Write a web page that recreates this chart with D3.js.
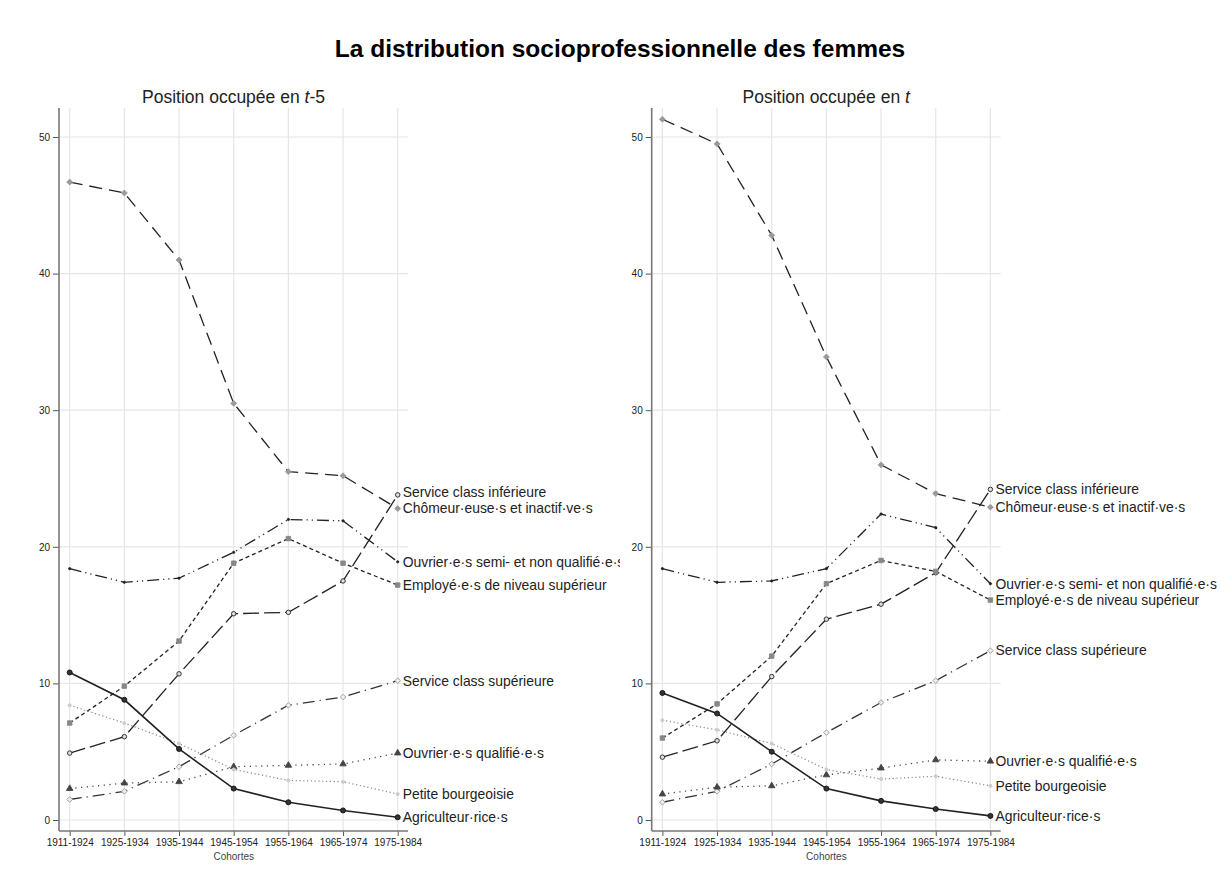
<!DOCTYPE html>
<html>
<head>
<meta charset="utf-8">
<script src="https://cdn.jsdelivr.net/npm/d3@7"></script>
<style>
  body { margin: 0; background: #fff; }
  text { font-family: "Liberation Sans", Arial, Helvetica, sans-serif; }
</style>
</head>
<body>
<div class="chart"></div>
<script>
// Distribution socioprofessionnelle des femmes, par cohorte

const cohortes = ['1911-1924', '1925-1934', '1935-1944', '1945-1954', '1955-1964', '1965-1974', '1975-1984']
const yTicks = [0, 10, 20, 30, 40, 50]

const labels = [
  'Service class inférieure',
  'Chômeur·euse·s et inactif·ve·s',
  'Ouvrier·e·s semi- et non qualifié·e·s',
  'Employé·e·s de niveau supérieur',
  'Service class supérieure',
  'Ouvrier·e·s qualifié·e·s',
  'Petite bourgeoisie',
  'Agriculteur·rice·s'
]

// Position occupée en t-5
const serviceInfT5 = [4.9, 6.1, 10.7, 15.1, 15.2, 17.5, 23.8]
const chomeurT5 = [46.7, 45.9, 41.0, 30.5, 25.5, 25.2, 22.8]
const ouvrierSemiT5 = [18.4, 17.4, 17.7, 19.6, 22.0, 21.9, 18.9]
const employeT5 = [7.1, 9.8, 13.1, 18.8, 20.6, 18.8, 17.2]
const serviceSupT5 = [1.5, 2.1, 3.9, 6.2, 8.4, 9.0, 10.2]
const ouvrierQualT5 = [2.3, 2.7, 2.8, 3.9, 4.0, 4.1, 4.9]
const petiteBourgT5 = [8.4, 7.1, 5.6, 3.7, 2.9, 2.8, 1.9]
const agriculteurT5 = [10.8, 8.8, 5.2, 2.3, 1.3, 0.7, 0.2]

// Position occupée en t
const serviceInfT = [4.6, 5.8, 10.5, 14.7, 15.8, 18.1, 24.2]
const chomeurT = [51.3, 49.5, 42.8, 33.9, 26.0, 23.9, 22.9]
const ouvrierSemiT = [18.4, 17.4, 17.5, 18.4, 22.4, 21.4, 17.3]
const employeT = [6.0, 8.5, 12.0, 17.3, 19.0, 18.2, 16.1]
const serviceSupT = [1.3, 2.1, 4.1, 6.4, 8.6, 10.2, 12.4]
const ouvrierQualT = [1.9, 2.4, 2.5, 3.3, 3.8, 4.4, 4.3]
const petiteBourgT = [7.3, 6.6, 5.6, 3.7, 3.0, 3.2, 2.5]
const agriculteurT = [9.3, 7.8, 5.0, 2.3, 1.4, 0.8, 0.3]

// styles (same order as labels)
const styles = [
  {dash: '16,5', color: '#222', w: 1.3, sym: d3.symbolCircle, size: 16, fill: '#ddd', stroke: '#222'},
  {dash: '13,7', color: '#222', w: 1.3, sym: d3.symbolDiamond2, size: 22, fill: '#999', stroke: '#999'},
  {dash: '12,4,1.2,4,1.2,4', color: '#222', w: 1.3, sym: d3.symbolCircle, size: 4, fill: '#222', stroke: '#222'},
  {dash: '4,3', color: '#222', w: 1.3, sym: d3.symbolSquare, size: 20, fill: '#888', stroke: '#888'},
  {dash: '12,5,1.2,5', color: '#333', w: 1.3, sym: d3.symbolDiamond2, size: 20, fill: '#eee', stroke: '#999'},
  {dash: '1.2,4.5', color: '#444', w: 1.3, sym: d3.symbolTriangle, size: 18, fill: '#444', stroke: '#444'},
  {dash: '1.2,2.6', color: '#888', w: 1.2, sym: d3.symbolCircle, size: 8, fill: '#ccc', stroke: '#ccc'},
  {dash: null, color: '#222', w: 1.6, sym: d3.symbolCircle, size: 20, fill: '#333', stroke: '#111'}
]

const panels = [
  {x0: 59, title: ['Position occupée en ', 't', '-5'],
   series: [serviceInfT5, chomeurT5, ouvrierSemiT5, employeT5, serviceSupT5, ouvrierQualT5, petiteBourgT5, agriculteurT5],
   clip: 620},
  {x0: 651.7, title: ['Position occupée en ', 't', ''],
   series: [serviceInfT, chomeurT, ouvrierSemiT, employeT, serviceSupT, ouvrierQualT, petiteBourgT, agriculteurT],
   clip: 1221}
]

const width = 1221
const height = 896

const svg = d3.select('.chart')
  .append('svg')
  .attr('width', width)
  .attr('height', height)

svg.append('text')
  .attr('x', 620)
  .attr('y', 57)
  .attr('text-anchor', 'middle')
  .style('font-size', '24.5px')
  .style('font-weight', 'bold')
  .attr('fill', '#000')
  .text('La distribution socioprofessionnelle des femmes')

const yScale = d3.scaleLinear().domain([0, 50]).range([820, 137])
const plotTop = 108
const axisY = 831

panels.forEach((p, pi) => {
  const x0 = p.x0
  const right = x0 + 349
  const xScale = d3.scalePoint().domain(cohortes).range([x0 + 10.7, x0 + 338.7])

  svg.append('clipPath').attr('id', 'clip' + pi)
    .append('rect').attr('x', 0).attr('y', 0).attr('width', p.clip).attr('height', height)

  const g = svg.append('g').attr('clip-path', 'url(#clip' + pi + ')')

  // subtitle
  const st = g.append('text')
    .attr('x', (x0 + right) / 2)
    .attr('y', 103)
    .attr('text-anchor', 'middle')
    .style('font-size', '17.5px')
    .attr('fill', '#222')
  st.append('tspan').text(p.title[0])
  st.append('tspan').style('font-style', 'italic').text(p.title[1])
  st.append('tspan').text(p.title[2])

  // gridlines
  g.append('g').selectAll('line.h')
    .data(yTicks).enter().append('line')
    .attr('x1', x0).attr('x2', right)
    .attr('y1', d => yScale(d)).attr('y2', d => yScale(d))
    .attr('stroke', '#e6e6e6').attr('stroke-width', 1.2)
  g.append('g').selectAll('line.v')
    .data(cohortes).enter().append('line')
    .attr('x1', d => xScale(d)).attr('x2', d => xScale(d))
    .attr('y1', plotTop).attr('y2', axisY)
    .attr('stroke', '#e6e6e6').attr('stroke-width', 1.2)

  // Y-axis
  const yAxis = d3.axisLeft(yScale).tickValues(yTicks).tickSize(6).tickPadding(3)
  const ya = g.append('g').attr('transform', 'translate(' + x0 + ',0)').call(yAxis)
  ya.select('.domain').remove()
  ya.selectAll('line').attr('stroke', '#555')
  ya.selectAll('text').style('font-size', '10px').attr('fill', '#222')

  // X-axis
  const xAxis = d3.axisBottom(xScale).tickSize(5).tickPadding(3)
  const xa = g.append('g').attr('transform', 'translate(0,' + axisY + ')').call(xAxis)
  xa.select('.domain').remove()
  xa.selectAll('line').attr('stroke', '#555')
  xa.selectAll('text').style('font-size', '10px').attr('fill', '#222')

  g.append('line')
    .attr('x1', x0).attr('x2', x0).attr('y1', plotTop).attr('y2', axisY)
    .attr('stroke', '#777').attr('stroke-width', 1.6)
  g.append('line')
    .attr('x1', x0).attr('x2', right).attr('y1', axisY).attr('y2', axisY)
    .attr('stroke', '#777').attr('stroke-width', 1.6)

  g.append('text')
    .attr('x', (xScale(cohortes[0]) + xScale(cohortes[6])) / 2)
    .attr('y', 860)
    .attr('text-anchor', 'middle')
    .style('font-size', '10px')
    .attr('fill', '#444')
    .text('Cohortes')

  // lines
  const line = d3.line()
    .x((d, i) => xScale(cohortes[i]))
    .y(d => yScale(d))

  p.series.forEach((vals, si) => {
    const s = styles[si]
    g.append('path')
      .datum(vals)
      .attr('d', line)
      .attr('fill', 'none')
      .attr('stroke', s.color)
      .attr('stroke-width', s.w)
      .attr('stroke-dasharray', s.dash)
  })

  // markers
  p.series.forEach((vals, si) => {
    const s = styles[si]
    g.append('g').selectAll('path')
      .data(vals).enter().append('path')
      .attr('transform', (d, i) => 'translate(' + xScale(cohortes[i]) + ',' + yScale(d) + ')')
      .attr('d', d3.symbol().type(s.sym).size(s.size))
      .attr('fill', s.fill)
      .attr('stroke', s.stroke)
      .attr('stroke-width', 0.9)
  })

  // end labels, nudged apart when too close
  const ends = p.series.map((vals, si) => ({label: labels[si], y: yScale(vals[vals.length - 1])}))
  ends.sort((a, b) => a.y - b.y)
  for (let i = ends.length - 2; i >= 0; i--) {
    if (ends[i + 1].y - ends[i].y < 16) ends[i].y = ends[i + 1].y - 16
  }
  g.append('g').selectAll('text')
    .data(ends).enter().append('text')
    .attr('x', xScale(cohortes[6]) + 5)
    .attr('y', d => d.y)
    .attr('dy', '0.35em')
    .style('font-size', '13.9px')
    .attr('fill', '#222')
    .text(d => d.label)
})
</script>
</body>
</html>
